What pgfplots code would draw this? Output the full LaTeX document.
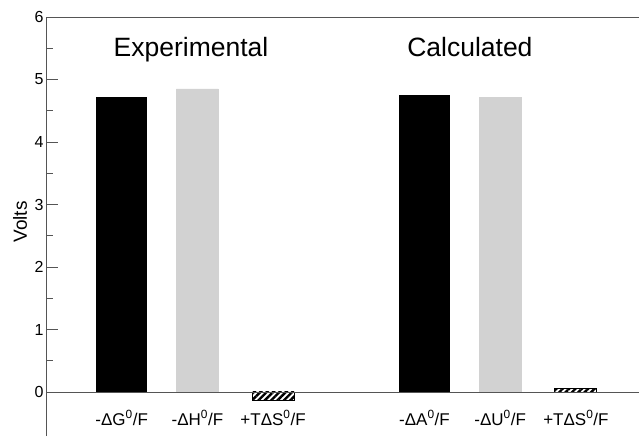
\documentclass[border=0pt]{standalone}
\usepackage{pgfplots}
\pgfplotsset{compat=1.18}
\usepackage{fontspec}
\setmainfont{Liberation Sans}
\usetikzlibrary{patterns.meta}
\definecolor{lgray}{RGB}{210,210,210}
\definecolor{axgray}{RGB}{85,85,85}
\begin{document}
\begin{tikzpicture}
\begin{axis}[
  scale only axis,
  width=593pt, height=419pt,
  xmin=0, xmax=7.834,
  ymin=-0.704, ymax=6,
  axis line style={draw=none},
  ytick={0,1,2,3,4,5,6},
  minor y tick num=1,
  ytick pos=left,
  ytick align=inside,
  major tick length=12pt,
  minor tick length=7pt,
  every tick/.style={axgray, line width=0.8pt},
  yticklabel style={font=\fontsize{16}{18}\selectfont, xshift=1pt},
  /pgf/number format/assume math mode=true,
  xtick={1,2,3,5,6,7},
  xticklabels={-ΔG\textsuperscript{0}/F, -ΔH\textsuperscript{0}/F, +TΔS\textsuperscript{0}/F, -ΔA\textsuperscript{0}/F, -ΔU\textsuperscript{0}/F, +TΔS\textsuperscript{0}/F},
  xtick style={draw=none},
  xticklabel style={font=\fontsize{17}{19}\selectfont, anchor=base, yshift=11pt},
  ylabel={Volts},
  ylabel style={font=\fontsize{19}{21}\selectfont, at={([xshift=-26pt]axis cs:0,2.72)}, anchor=center},
  clip=false,
]
\draw[axgray, line width=0.9pt] (rel axis cs:0,0) -- (rel axis cs:0,1) -- (rel axis cs:1,1);
\addplot[draw=axgray, line width=0.8pt] coordinates {(0,0) (7.834,0)};
\addplot[ybar, bar width=50pt, bar shift=0pt, fill=black, draw=black] coordinates {(1,4.71) (5,4.75)};
\addplot[ybar, bar width=42pt, bar shift=0pt, fill=lgray, draw=lgray] coordinates {(2,4.85) (6,4.71)};
\addplot[ybar, bar width=42pt, bar shift=0pt, draw=black, line width=0.8pt,
  pattern={Lines[angle=45, distance=4.5pt, line width=2.4pt]}] coordinates {(3,-0.13)};
\addplot[ybar, bar width=42pt, bar shift=0pt, draw=black, line width=0.8pt,
  pattern={Lines[angle=45, distance=4.5pt, line width=2.4pt]}] coordinates {(7,0.05)};
\addplot[draw=axgray, line width=0.8pt] coordinates {(0,0) (7.834,0)};
\node[font=\fontsize{26.5}{30}\selectfont, anchor=base] at (axis cs:1.916,5.36) {Experimental};
\node[font=\fontsize{26.5}{30}\selectfont, anchor=base] at (axis cs:5.60,5.36) {Calculated};
\end{axis}
\pgfresetboundingbox
\path[use as bounding box] (-46pt,0pt) rectangle (593pt,436pt);
\end{tikzpicture}
\end{document}
